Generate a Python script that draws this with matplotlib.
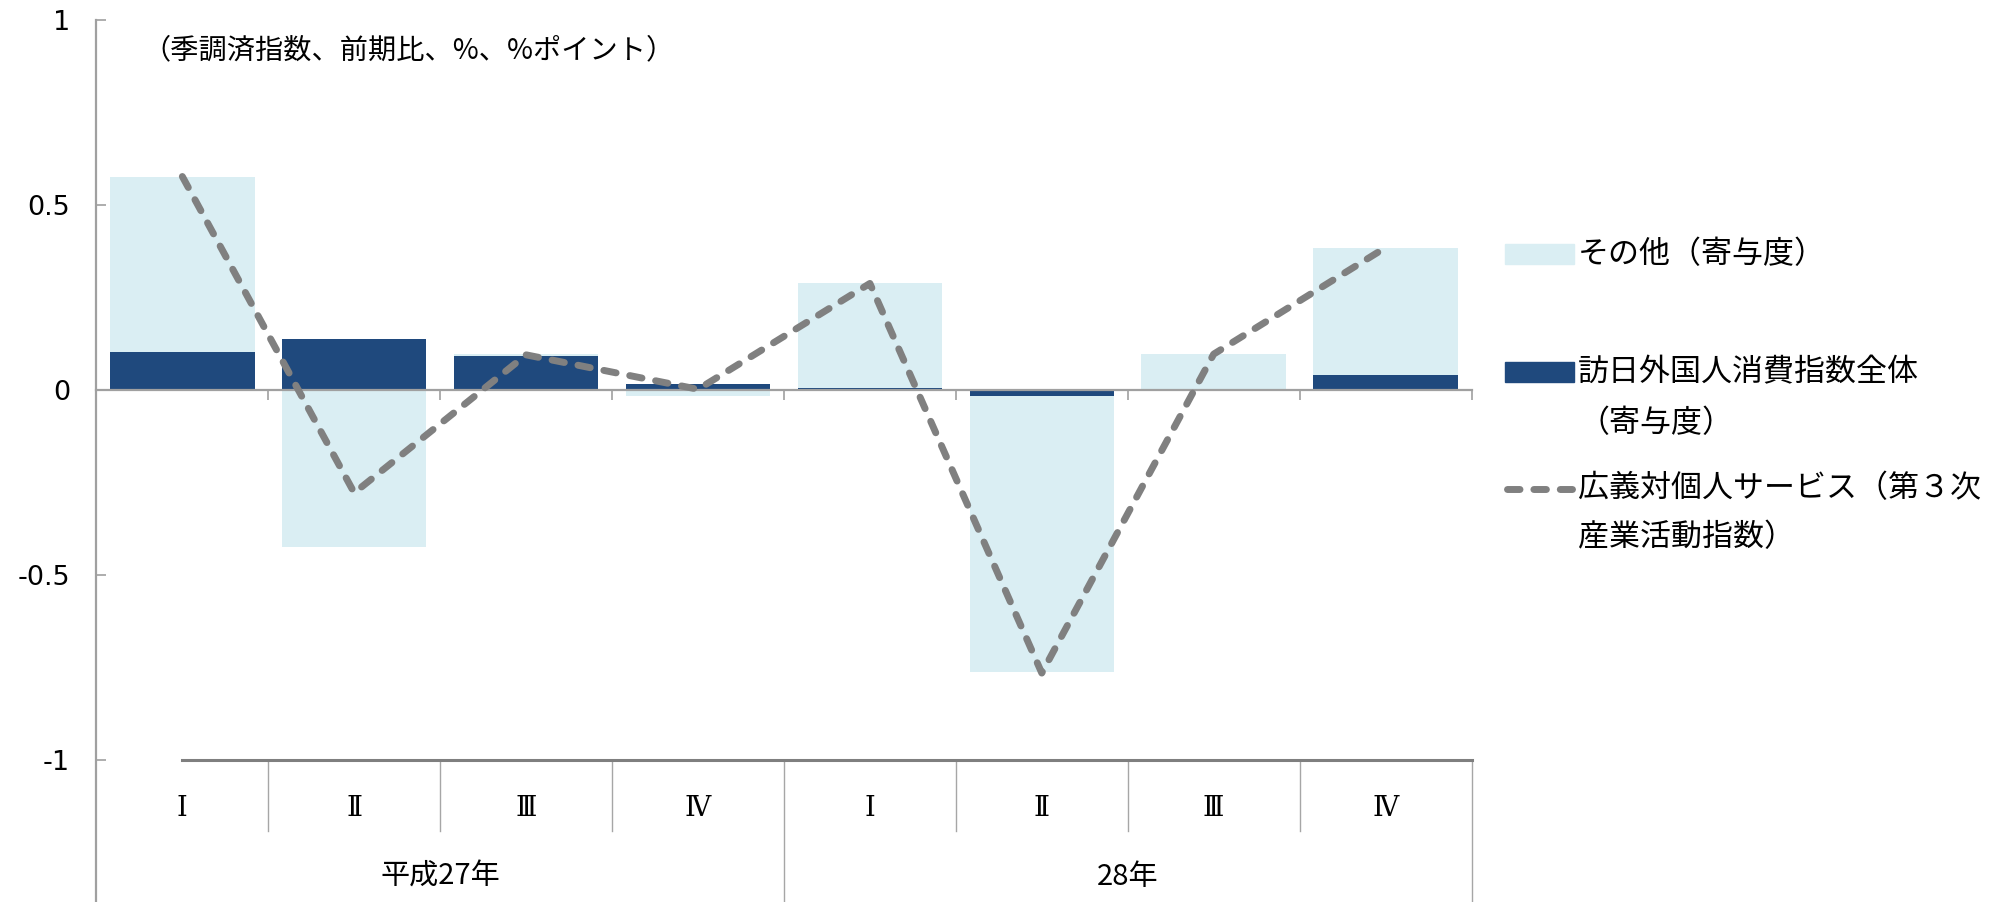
import matplotlib
matplotlib.use('Agg')
import matplotlib.pyplot as plt
from matplotlib.patches import Rectangle
from matplotlib.lines import Line2D

plt.rcParams['font.family'] = ['DejaVu Sans', 'Noto Sans CJK JP']

# ---------------- data ----------------
quarters = ['Ⅰ', 'Ⅱ', 'Ⅲ', 'Ⅳ', 'Ⅰ', 'Ⅱ', 'Ⅲ', 'Ⅳ']
years = ['平成27年', '28年']
inbound = [0.103, 0.139, 0.091, 0.017, 0.005, -0.015, 0.004, 0.040]
other = [0.474, -0.424, 0.006, -0.016, 0.283, -0.748, 0.093, 0.345]
service_index = [0.577, -0.278, 0.095, 0.002, 0.288, -0.765, 0.097, 0.385]
yticks = [-1, -0.5, 0, 0.5, 1]
ytick_labels = ['-1', '-0.5', '0', '0.5', '1']
note = '（季調済指数、前期比、%、%ポイント）'
legend_other = 'その他（寄与度）'
legend_inbound = ['訪日外国人消費指数全体', '（寄与度）']
legend_line = ['広義対個人サービス（第３次', '産業活動指数）']

# ---------------- style ----------------
C_DARK = '#1F497D'
C_LIGHT = '#DAEEF3'
C_LINE = '#808080'
C_AXIS = '#A0A0A0'
JP = ['Noto Sans CJK JP', 'DejaVu Sans']

W, H = 1989, 902
fig = plt.figure(figsize=(W / 100, H / 100), dpi=100)
ax_left, ax_right, ax_top, ax_bot = 96.4, 1471.5, 20, 760
ax = fig.add_axes([ax_left / W, (H - ax_bot) / H, (ax_right - ax_left) / W, (ax_bot - ax_top) / H])

n = len(quarters)
x = list(range(n))
bw = 0.84

ax.bar(x, inbound, width=bw, color=C_DARK, zorder=2)
other_bottom = [d if (d >= 0) == (o >= 0) else 0 for d, o in zip(inbound, other)]
ax.bar(x, other, width=bw, bottom=other_bottom, color=C_LIGHT, zorder=2)

dash = (1.8, 2.0)
ax.plot(x, service_index, color=C_LINE, lw=5, linestyle=(0, dash),
        dash_capstyle='round', zorder=4, clip_on=False)

ax.set_xlim(-0.5, n - 0.5)
ax.set_ylim(-1, 1)

# axes / spines
for s in ['top', 'right', 'left']:
    ax.spines[s].set_visible(False)
ax.spines['bottom'].set_position(('data', 0))
ax.spines['bottom'].set_color(C_AXIS)
ax.spines['bottom'].set_linewidth(1.6)
ax.spines['bottom'].set_zorder(3)
ax.set_xticks([i + 0.5 for i in range(n)])
ax.set_xticklabels([])
ax.tick_params(axis='x', direction='out', length=7, width=1.2, color=C_AXIS)

ax.set_yticks(yticks)
ax.set_yticklabels(ytick_labels)
ax.tick_params(axis='y', direction='in', length=7, width=1.2, color=C_AXIS,
               labelsize=19.5, pad=19, labelcolor='black')

# y axis line extending down through category label area
y_bottom_data = (390 - H) / 370.0
ax.plot([-0.5, -0.5], [1, y_bottom_data], color=C_AXIS, lw=1.6, clip_on=False, zorder=3)

# horizontal line at -1
ax.plot([0, n - 0.5], [-1, -1], color='#7F7F7F', lw=2.2, clip_on=False, zorder=3)

# category separators
short_end = (390 - 831) / 370.0
for i in range(n):
    b = i + 0.5
    end = y_bottom_data if (i == 3 or i == n - 1) else short_end
    ax.plot([b, b], [-1, end], color='#A6A6A6', lw=1.0, clip_on=False)

# quarter labels
q_y = (390 - 808) / 370.0
for i, q in enumerate(quarters):
    ax.text(i, q_y, q, ha='center', va='center', fontsize=19.5,
            family=['DejaVu Serif', 'Noto Sans CJK JP'])

# year labels
yr_y = (390 - 877) / 370.0
ax.text(1.5, yr_y, years[0], ha='center', va='center', fontsize=21, family=JP)
ax.text(5.5, yr_y, years[1], ha='center', va='center', fontsize=21, family=JP)

# note
fig.text(142 / W, 1 - 50 / H, note, ha='left', va='center', fontsize=20.3, family=JP)

# legend (manual)
def fx(px):
    return px / W

def fy(py):
    return 1 - py / H

fig.patches.append(Rectangle((fx(1505), fy(264)), (1574 - 1505) / W, 20 / H,
                             transform=fig.transFigure, color=C_LIGHT, figure=fig))
fig.patches.append(Rectangle((fx(1505), fy(382)), (1574 - 1505) / W, 20 / H,
                             transform=fig.transFigure, color=C_DARK, figure=fig))
fig.lines.append(Line2D([fx(1507), fx(1572)], [fy(489), fy(489)], transform=fig.transFigure,
                        color=C_LINE, lw=5, linestyle=(0, dash), dash_capstyle='round', figure=fig))

lfs = 22.3
fig.text(fx(1578), fy(255), legend_other, ha='left', va='center', fontsize=lfs, family=JP)
fig.text(fx(1578), fy(373), legend_inbound[0], ha='left', va='center', fontsize=lfs, family=JP)
fig.text(fx(1578), fy(424), legend_inbound[1], ha='left', va='center', fontsize=lfs, family=JP)
fig.text(fx(1578), fy(489), legend_line[0], ha='left', va='center', fontsize=lfs, family=JP)
fig.text(fx(1578), fy(538), legend_line[1], ha='left', va='center', fontsize=lfs, family=JP)

fig.savefig('out.png', dpi=100)
